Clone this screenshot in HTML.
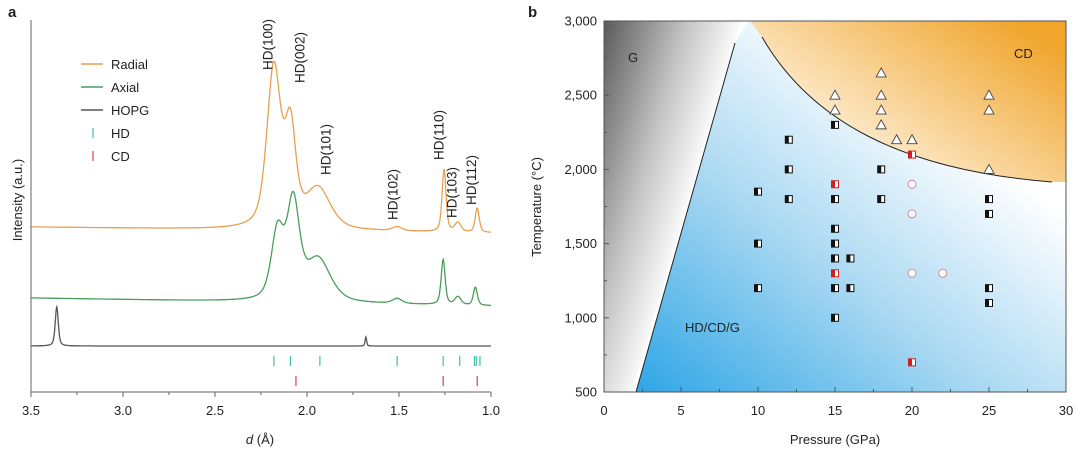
<!DOCTYPE html>
<html><head><meta charset="utf-8">
<style>
body{margin:0;background:#fff;}
svg text{font-family:"Liberation Sans",sans-serif;fill:#222;}
</style></head>
<body>
<svg id="fig" width="1080" height="455" viewBox="0 0 1080 455" xmlns="http://www.w3.org/2000/svg">
<defs>
<linearGradient id="gGray" gradientUnits="userSpaceOnUse" x1="604" y1="21" x2="758" y2="65">
<stop offset="0" stop-color="#5a5a5a"/><stop offset="0.5" stop-color="#c4c4c4"/><stop offset="0.85" stop-color="#ffffff"/>
</linearGradient>
<linearGradient id="gBlue" x1="0" y1="1" x2="0.8" y2="0.1">
<stop offset="0" stop-color="#2ea6e6"/><stop offset="0.45" stop-color="#a9d8f2"/><stop offset="0.85" stop-color="#ffffff"/>
</linearGradient>
<linearGradient id="gOrange" x1="0.1" y1="0.9" x2="1" y2="0.2">
<stop offset="0" stop-color="#ffffff"/><stop offset="0.35" stop-color="#fbe0b5"/><stop offset="1" stop-color="#f0a52c"/>
</linearGradient>
</defs>

<g id="panelA">
<text x="8" y="17" font-size="15" font-weight="bold">a</text>
<g id="curvesA"></g>
<g id="axesA"></g>
<g font-size="13">
<line x1="81" y1="64" x2="103" y2="64" stroke="#e8a050" stroke-width="1.5"/>
<text x="111" y="69" font-size="13">Radial</text>
<line x1="81" y1="87" x2="103" y2="87" stroke="#4a9e5a" stroke-width="1.5"/>
<text x="111" y="92" font-size="13">Axial</text>
<line x1="81" y1="110" x2="103" y2="110" stroke="#555" stroke-width="1.5"/>
<text x="111" y="115" font-size="13">HOPG</text>
<line x1="93" y1="128" x2="93" y2="138" stroke="#3cc0a8" stroke-width="1.2"/>
<text x="111" y="138" font-size="13">HD</text>
<line x1="93" y1="151" x2="93" y2="161" stroke="#d04050" stroke-width="1.2"/>
<text x="111" y="161" font-size="13">CD</text>
</g>
<text transform="translate(22,200) rotate(-90)" text-anchor="middle" font-size="13">Intensity (a.u.)</text>
<text x="260" y="444" text-anchor="middle" font-size="13"><tspan font-style="italic">d</tspan> (Å)</text>
</g>

<g id="panelB">
<text x="528" y="17" font-size="15" font-weight="bold">b</text>
<polygon points="604,21 741,21 632,392 604,392" fill="url(#gGray)"/>
<polygon points="636,392 735,43 748,21 1066,21 1066,392" fill="url(#gBlue)"/>
<path d="M750,21 L1066,21 L1066,182 L1052,182 C 900,170 810,120 762,37 Z" fill="url(#gOrange)"/>
<line x1="636" y1="392" x2="735" y2="43" stroke="#222" stroke-width="1"/>
<path d="M762,37 C 810,120 900,170 1052,182" fill="none" stroke="#222" stroke-width="1"/>
<text x="628" y="62" font-size="13">G</text>
<text x="1014" y="58" font-size="13">CD</text>
<text x="685" y="332" font-size="13">HD/CD/G</text>
<g id="marksB"></g>
<g id="axesB"></g>
<text transform="translate(541,207) rotate(-90)" text-anchor="middle" font-size="13">Temperature (°C)</text>
<text x="835" y="444" text-anchor="middle" font-size="13">Pressure (GPa)</text>
</g>
</svg>
<script>
// ---------- Panel a data ----------
const radialPeaksD = [2.18, 2.09, 1.94, 1.51, 1.255, 1.18, 1.075];
const radialPeaksAmp = [160, 95, 40, 4, 62, 9, 24];
const radialPeaksW = [0.045, 0.035, 0.08, 0.03, 0.013, 0.02, 0.013];
const radialBaseline = [227, 233];
const axialPeaksD = [2.16, 2.075, 1.94, 1.51, 1.26, 1.18, 1.085];
const axialPeaksAmp = [68, 95, 42, 5, 45, 8, 18];
const axialPeaksW = [0.04, 0.04, 0.08, 0.03, 0.013, 0.02, 0.013];
const axialBaseline = [298, 306];
const hopgPeaksD = [3.36, 1.68];
const hopgPeaksAmp = [39, 9];
const hopgPeaksW = [0.01, 0.005];
const hopgBaseline = [346, 346];
const hdTicks = [2.18, 2.09, 1.93, 1.51, 1.26, 1.17, 1.09, 1.08, 1.06];
const cdTicks = [2.06, 1.26, 1.075];
const dTickLabels = [3.5, 3.0, 2.5, 2.0, 1.5, 1.0];
const peakLabels = ["HD(100)", "HD(002)", "HD(101)", "HD(102)", "HD(110)", "HD(103)", "HD(112)"];
const peakLabelD = [2.215, 2.04, 1.9, 1.535, 1.285, 1.215, 1.11];
const peakLabelBottom = [70, 83, 175, 220, 160, 218, 205];

const NS = "http://www.w3.org/2000/svg";
function mk(tag, attrs, parent){const e=document.createElementNS(NS,tag);for(const k in attrs)e.setAttribute(k,attrs[k]);parent.appendChild(e);return e;}
const xA = d => 31 + (3.5 - d) * 184;
const curvesA = document.getElementById('curvesA');
function drawCurve(cs, amps, ws, base, color, name){
  let p = "";
  for (let d = 3.5; d >= 0.9999; d -= 0.002) {
    let v = 0;
    for (let i=0;i<cs.length;i++){const t=(d-cs[i])/ws[i];v+=amps[i]*(0.5/(1+t*t)+0.5*Math.exp(-0.693*t*t));}
    const b = base[0] + (base[1]-base[0])*(3.5-d)/2.5;
    p += (p?"L":"M") + xA(d).toFixed(1) + "," + (b - v).toFixed(1);
  }
  const e = mk('path',{d:p,fill:'none',stroke:color,'stroke-width':1.3},curvesA);
  
  
}
drawCurve(radialPeaksD, radialPeaksAmp, radialPeaksW, radialBaseline, '#e8a050', 'radial-curve');
drawCurve(axialPeaksD, axialPeaksAmp, axialPeaksW, axialBaseline, '#4a9e5a', 'axial-curve');
drawCurve(hopgPeaksD, hopgPeaksAmp, hopgPeaksW, hopgBaseline, '#555555', 'hopg-curve');
hdTicks.forEach(d=>{
  const e=mk('line',{x1:xA(d),x2:xA(d),y1:356,y2:366,stroke:'#3cc0a8','stroke-width':1.2},curvesA);
  
  
});
cdTicks.forEach(d=>{
  const e=mk('line',{x1:xA(d),x2:xA(d),y1:376,y2:386,stroke:'#d04050','stroke-width':1.2},curvesA);
  
  
});
peakLabels.forEach((t,i)=>{
  const x = xA(peakLabelD[i]) + 5, y = peakLabelBottom[i];
  const e=mk('text',{transform:`translate(${x},${y}) rotate(-90)`,'font-size':13.5},curvesA);
  e.textContent=t;
  
  
});
const axesA=document.getElementById('axesA');
mk('line',{x1:31,y1:20,x2:31,y2:392,stroke:'#666','stroke-width':1},axesA);
mk('line',{x1:31,y1:392,x2:491,y2:392,stroke:'#666','stroke-width':1},axesA);
for(let d=3.5; d>=0.999; d-=0.25){mk('line',{x1:xA(d),x2:xA(d),y1:392,y2:Math.abs(d*2-Math.round(d*2))<0.01?397:395,stroke:'#666'},axesA);}
dTickLabels.forEach(d=>{
  const e=mk('text',{x:xA(d),y:415,'text-anchor':'middle','font-size':13},axesA);
  e.textContent=d.toFixed(1);
  
  
});

// ---------- Panel b data ----------
const sqP = [10,10,10,12,12,12,15,15,15,15,15,15,15,16,16,18,18,25,25,25,25];
const sqT = [1850,1500,1200,2200,2000,1800,2300,1800,1600,1500,1400,1200,1000,1400,1200,2000,1800,1800,1700,1200,1100];
const redP = [15,15,20,20];
const redT = [1900,1300,2100,700];
const triP = [15,15,18,18,18,18,19,20,25,25,25];
const triT = [2500,2400,2650,2500,2400,2300,2200,2200,2500,2400,2000];
const cirP = [20,20,20,22];
const cirT = [1900,1700,1300,1300];
const pTicks = [0,5,10,15,20,25,30];
const tTicks = [500,1000,1500,2000,2500,3000];

const xB = p => 604 + p * 15.4;
const yB = t => 392 - (t - 500) * 0.1484;
const marksB=document.getElementById('marksB');
function halfSquare(p,t,col,name){
  const x=xB(p), y=yB(t);
  const g=mk('g',{},marksB);
  
  
  mk('rect',{x:x-3.5,y:y-3.5,width:7,height:7,fill:'#fff',stroke:col,'stroke-width':1},g);
  mk('rect',{x:x-3.5,y:y-3.5,width:3.5,height:7,fill:col},g);
}
sqP.forEach((p,i)=>halfSquare(p,sqT[i],'#111','hd-square-marker'));
redP.forEach((p,i)=>halfSquare(p,redT[i],'#d02020','red-square-marker'));
triP.forEach((p,i)=>{
  const x=xB(p), y=yB(triT[i]);
  const e=mk('polygon',{points:`${x},${y-5} ${x-5},${y+4} ${x+5},${y+4}`,fill:'#fff',stroke:'#444','stroke-width':0.9},marksB);
  
  
});
cirP.forEach((p,i)=>{
  const e=mk('circle',{cx:xB(p),cy:yB(cirT[i]),r:4,fill:'#fff',stroke:'#d08090','stroke-width':0.9},marksB);
  
  
});
const axesB=document.getElementById('axesB');
mk('rect',{x:604,y:21,width:462,height:371,fill:'none',stroke:'#555','stroke-width':1},axesB);
for(let p=0;p<=30;p+=2.5){mk('line',{x1:xB(p),x2:xB(p),y1:392,y2:p%5===0?387:389,stroke:'#555'},axesB);}
for(let t=500;t<=3000;t+=250){mk('line',{x1:604,x2:t%500===0?609:607,y1:yB(t),y2:yB(t),stroke:'#555'},axesB);}
pTicks.forEach(p=>{
  const e=mk('text',{x:xB(p),y:415,'text-anchor':'middle','font-size':13},axesB);
  e.textContent=p;
  
  
});
tTicks.forEach(t=>{
  const e=mk('text',{x:597,y:yB(t)+4.5,'text-anchor':'end','font-size':13},axesB);
  e.textContent=t.toLocaleString('en-US');
  
  
});
</script>
</body></html>
